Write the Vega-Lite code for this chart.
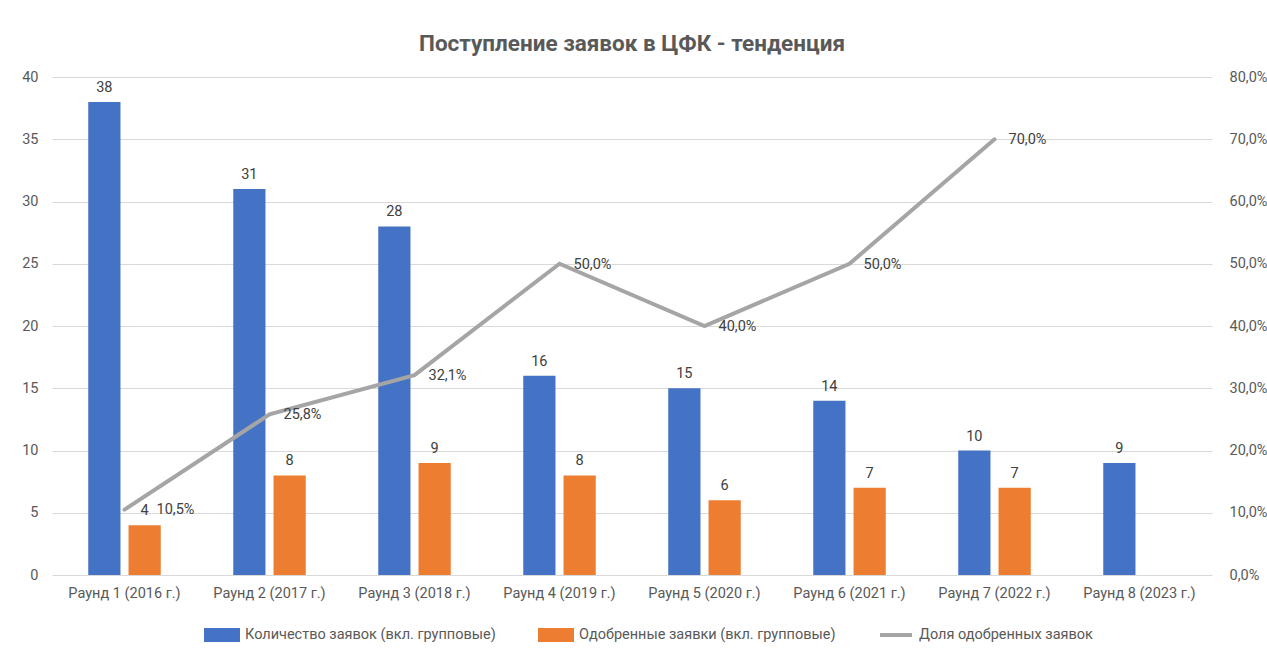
{
  "$schema": "https://vega.github.io/schema/vega-lite/v6.json",
  "width": 1160,
  "height": 498,
  "autosize": {"type": "none"},
  "padding": {"left": 52, "top": 77, "right": 55, "bottom": 74},
  "background": "white",
  "title": {
    "text": "Поступление заявок в ЦФК - тенденция",
    "font": "Roboto",
    "fontSize": 22.5,
    "fontWeight": "bold",
    "color": "#595959",
    "anchor": "middle",
    "offset": 14
  },
  "config": {
    "locale": {"number": {"decimal": ",", "thousands": " ", "grouping": [3], "currency": ["", " ₽"]}},
    "font": "Roboto",
    "view": {"stroke": null},
    "axis": {"labelFont": "Roboto", "labelFontSize": 14.5, "labelColor": "#595959", "titleColor": "#595959"}
  },
  "data": {
    "values": [
      {"round": "Раунд 1 (2016 г.)", "count": 38, "approved": 4, "share": 0.105},
      {"round": "Раунд 2 (2017 г.)", "count": 31, "approved": 8, "share": 0.258},
      {"round": "Раунд 3 (2018 г.)", "count": 28, "approved": 9, "share": 0.321},
      {"round": "Раунд 4 (2019 г.)", "count": 16, "approved": 8, "share": 0.5},
      {"round": "Раунд 5 (2020 г.)", "count": 15, "approved": 6, "share": 0.4},
      {"round": "Раунд 6 (2021 г.)", "count": 14, "approved": 7, "share": 0.5},
      {"round": "Раунд 7 (2022 г.)", "count": 10, "approved": 7, "share": 0.7},
      {"round": "Раунд 8 (2023 г.)", "count": 9, "approved": null, "share": null}
    ]
  },
  "encoding": {
    "x": {
      "field": "round",
      "type": "nominal",
      "sort": null,
      "scale": {"paddingInner": 0.5, "paddingOuter": 0.25},
      "axis": {"title": null, "labelAngle": 0, "ticks": false, "domain": false, "labelPadding": 11}
    }
  },
  "layer": [
    {
      "transform": [
        {"fold": ["count", "approved"], "as": ["key", "value"]},
        {"filter": "datum.value != null"},
        {"lookup": "key", "from": {"data": {"values": [
          {"key": "count", "series": "Количество заявок (вкл. групповые)"},
          {"key": "approved", "series": "Одобренные заявки (вкл. групповые)"}
        ]}, "key": "key", "fields": ["series"]}}
      ],
      "encoding": {
        "xOffset": {"field": "series", "type": "nominal", "sort": ["Количество заявок (вкл. групповые)", "Одобренные заявки (вкл. групповые)"], "scale": {"paddingInner": 0.2, "paddingOuter": 0}},
        "y": {
          "field": "value",
          "type": "quantitative",
          "scale": {"domain": [0, 40]},
          "axis": {"title": null, "values": [0, 5, 10, 15, 20, 25, 30, 35, 40], "grid": true, "gridColor": "#D9D9D9", "gridWidth": 1, "domain": false, "ticks": false, "labelPadding": 14}
        }
      },
      "layer": [
        {
          "mark": {"type": "bar"},
          "encoding": {
            "color": {
              "field": "series",
              "type": "nominal",
              "scale": {
                "domain": ["Количество заявок (вкл. групповые)", "Одобренные заявки (вкл. групповые)", "Доля одобренных заявок"],
                "range": ["#4472C4", "#ED7D31", "#A5A5A5"]
              },
              "legend": {
                "title": null,
                "orient": "none",
                "direction": "horizontal",
                "legendX": 152,
                "legendY": 540,
                "labelFont": "Roboto",
                "labelFontSize": 14.5,
                "labelColor": "#595959",
                "columnPadding": 36,
                "labelOffset": 5,
                "symbolSize": 1024,
                "labelLimit": 400,
                "encode": {
                  "symbols": {
                    "update": {
                      "shape": {"signal": "datum.value === 'Доля одобренных заявок' ? 'M-1,-0.31M1,0.31M-1,0H1' : 'M-1,-0.31H1V0.31H-1Z'"},
                      "fill": {"signal": "datum.value === 'Доля одобренных заявок' ? 'transparent' : (datum.value === 'Количество заявок (вкл. групповые)' ? '#4472C4' : '#ED7D31')"},
                      "stroke": {"signal": "datum.value === 'Доля одобренных заявок' ? '#A5A5A5' : 'transparent'"},
                      "strokeWidth": {"value": 4},
                      "size": {"value": 1024},
                      "opacity": {"value": 1}
                    }
                  }
                }
              }
            }
          }
        },
        {
          "mark": {"type": "text", "baseline": "bottom", "dy": -7, "fontSize": 14.5, "color": "#404040", "font": "Roboto"},
          "encoding": {
            "text": {"field": "value", "type": "quantitative"}
          }
        }
      ]
    },
    {
      "transform": [{"filter": "datum.share != null"}],
      "encoding": {
        "y": {
          "field": "share",
          "type": "quantitative",
          "scale": {"domain": [0, 0.8]},
          "axis": {"title": null, "orient": "right", "format": ".1%", "values": [0, 0.1, 0.2, 0.3, 0.4, 0.5, 0.6, 0.7, 0.8], "grid": false, "domain": false, "ticks": false, "labelPadding": 17}
        }
      },
      "layer": [
        {
          "mark": {"type": "line", "strokeWidth": 4, "strokeCap": "round"},
          "encoding": {
            "color": {"datum": "Доля одобренных заявок", "type": "nominal"}
          }
        },
        {
          "transform": [{"filter": "datum.round !== 'Раунд 1 (2016 г.)'"}],
          "mark": {"type": "text", "align": "left", "baseline": "middle", "dx": 14, "dy": 1, "fontSize": 14.5, "color": "#404040", "font": "Roboto"},
          "encoding": {
            "text": {"field": "share", "type": "quantitative", "format": ".1%"}
          }
        },
        {
          "transform": [{"filter": "datum.round === 'Раунд 1 (2016 г.)'"}],
          "mark": {"type": "text", "align": "left", "baseline": "middle", "dx": 32, "dy": 0, "fontSize": 14.5, "color": "#404040", "font": "Roboto"},
          "encoding": {
            "text": {"field": "share", "type": "quantitative", "format": ".1%"}
          }
        }
      ]
    }
  ],
  "resolve": {"scale": {"y": "independent"}}
}
